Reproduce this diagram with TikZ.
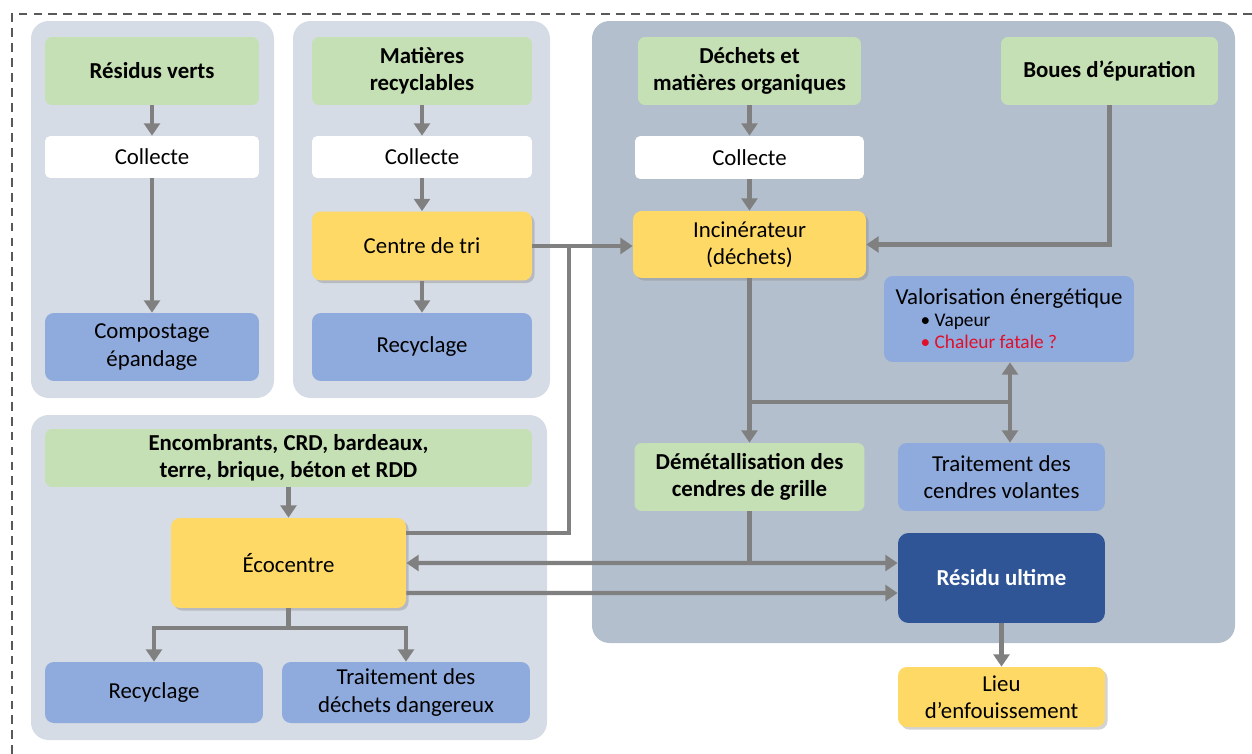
\documentclass[tikz,border=0pt]{standalone}
\usepackage{fontspec}
\setmainfont{Carlito}
\usepackage{xcolor}
\usepackage{tikz}
\usetikzlibrary{arrows.meta,shadows}

\definecolor{srcgreen}{HTML}{C5E0B4}
\definecolor{plantyellow}{HTML}{FFD966}
\definecolor{treatblue}{HTML}{8FAADC}
\definecolor{darkblue}{HTML}{2F5597}
\definecolor{panellight}{HTML}{D6DCE5}
\definecolor{paneldark}{HTML}{B4BFCD}
\definecolor{arrowgray}{HTML}{808080}
\definecolor{fatalred}{HTML}{E0102A}

\begin{document}
\begin{tikzpicture}[
  x=0.02cm, y=-0.02cm,
  every node/.style={font=\fontsize{13}{15.5}\selectfont, align=center, inner sep=2pt},
  srcbox/.style={rectangle, rounded corners=4pt, fill=srcgreen, font=\fontsize{13}{15.5}\selectfont\bfseries, minimum height=1.36cm},
  collect/.style={rectangle, rounded corners=3pt, fill=white, minimum height=0.84cm},
  plant/.style={rectangle, rounded corners=5pt, fill=plantyellow, drop shadow={shadow xshift=1.5pt, shadow yshift=-1.5pt, opacity=0.35}},
  treat/.style={rectangle, rounded corners=5pt, fill=treatblue, minimum height=1.36cm},
  ultime/.style={rectangle, rounded corners=6pt, fill=darkblue, text=white, font=\fontsize{13}{15.5}\selectfont\bfseries},
  panel/.style={rounded corners=10pt},
  flow/.style={draw=arrowgray, line width=2.3pt, -{Triangle[width=9pt,length=7pt]}},
  link/.style={draw=arrowgray, line width=2.3pt},
]
  \useasboundingbox (0,0) rectangle (1252,754);
  \draw[draw=black!65, line width=1.3pt, dash pattern=on 5pt off 3.5pt] (1252,14) -- (12,14) -- (12,754);

  % groupes
  \fill[panel, panellight] (31,21) rectangle (274,398);
  \fill[panel, panellight] (293,21) rectangle (550,398);
  \fill[panel, paneldark] (592,21) rectangle (1235,643);
  \fill[panel, panellight] (31,415) rectangle (547,740);

  % residus verts
  \node[srcbox, minimum width=4.28cm] (rv) at (152,71) {Résidus verts};
  \node[collect, minimum width=4.28cm] (col1) at (152,157) {Collecte};
  \node[treat, minimum width=4.28cm] (comp) at (152,347) {Compostage\\épandage};

  % matieres recyclables
  \node[srcbox, minimum width=4.4cm] (mr) at (422,71) {Matières\\recyclables};
  \node[collect, minimum width=4.4cm] (col2) at (422,157) {Collecte};
  \node[plant, minimum width=4.4cm, minimum height=1.38cm] (tri) at (422,246) {Centre de tri};
  \node[treat, minimum width=4.4cm] (rec1) at (422,347) {Recyclage};

  % incineration
  \node[srcbox, minimum width=4.46cm] (dmo) at (749.5,71) {Déchets et\\matières organiques};
  \node[srcbox, minimum width=4.34cm] (boues) at (1109.5,71) {Boues d’épuration};
  \node[collect, minimum width=4.58cm, minimum height=0.86cm] (col3) at (749.5,157.5) {Collecte};
  \node[plant, minimum width=4.66cm, minimum height=1.34cm] (inc) at (749.5,244.5) {Incinérateur\\(déchets)};
  \node[treat, minimum width=5.0cm, minimum height=1.72cm, align=left] (val) at (1009,319)
    {Valorisation énergétique\\[-3pt]
     \hspace*{1.1em}{\fontsize{11}{13}\selectfont • Vapeur}\\[-3pt]
     \hspace*{1.1em}{\fontsize{11}{13}\selectfont\color{fatalred} • Chaleur fatale ?}};
  \node[srcbox, minimum width=4.6cm] (dem) at (749.5,477) {Démétallisation des\\cendres de grille};
  \node[treat, minimum width=4.14cm] (tcv) at (1001.5,477) {Traitement des\\cendres volantes};
  \node[ultime, minimum width=4.14cm, minimum height=1.8cm] (ru) at (1001.5,578) {Résidu ultime};
  \node[plant, minimum width=4.14cm, minimum height=1.2cm] (lieu) at (1001.5,697) {Lieu\\d’enfouissement};

  % ecocentre
  \node[srcbox, minimum width=9.74cm, minimum height=1.16cm] (enc) at (288.5,458) {Encombrants, CRD, bardeaux,\\terre, brique, béton et RDD};
  \node[plant, minimum width=4.7cm, minimum height=1.8cm] (eco) at (288.5,563) {Écocentre};
  \node[treat, minimum width=4.36cm, minimum height=1.22cm] (rec2) at (154,692.5) {Recyclage};
  \node[treat, minimum width=4.96cm, minimum height=1.22cm] (tdd) at (406,692.5) {Traitement des\\déchets dangereux};

  \coordinate (jt) at (569,246);
  \coordinate (jv) at (749.5,402);
  \coordinate (jr) at (1010,402);
  \coordinate (je) at (288.5,628);

  \draw[flow] (rv) -- (col1);
  \draw[flow] (col1) -- (comp);
  \draw[flow] (mr) -- (col2);
  \draw[flow] (col2) -- (tri);
  \draw[flow] (tri) -- (rec1);
  \draw[flow] (dmo) -- (col3);
  \draw[flow] (col3) -- (inc);
  \draw[flow] (boues.south) |- (inc.east);
  \draw[flow] (tri.east) -- (tri.east -| inc.west);
  \draw[link] ([yshift=0.6cm]eco.east) -| (jt);

  \draw[link] (inc.south) -- (jv) -- (jr);
  \draw[flow] (jv) -- (dem.north);
  \draw[flow] (jr) -- (jr |- tcv.north);
  \draw[flow] (jr) -- (jr |- val.south);

  \draw[{Triangle[width=9pt,length=7pt]}-{Triangle[width=9pt,length=7pt]}, link] (eco.east) -- ([yshift=0.3cm]ru.west);
  \draw[link] (dem.south) -- (dem.south |- eco.east);
  \draw[flow] ([yshift=-0.6cm]eco.east) -- ([yshift=-0.3cm]ru.west);
  \draw[flow] (ru) -- (lieu);

  \draw[flow] (enc) -- (eco);
  \draw[link] (eco.south) -- (je);
  \draw[flow] (je) -| (rec2.north);
  \draw[flow] (je) -| (tdd.north);
\end{tikzpicture}
\end{document}
